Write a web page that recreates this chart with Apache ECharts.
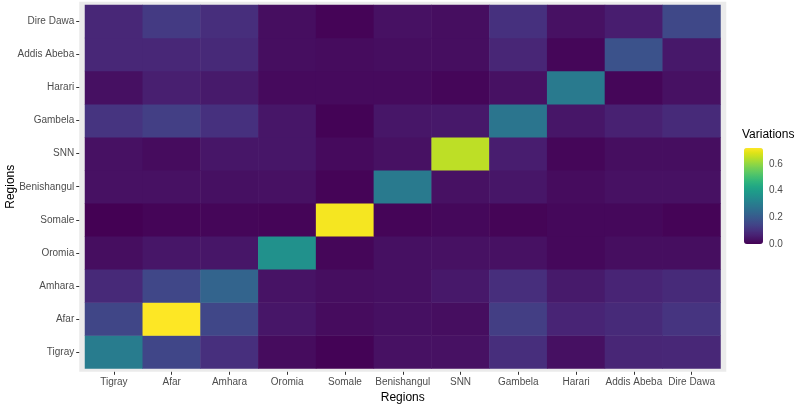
<!DOCTYPE html>
<html>
<head>
<meta charset="utf-8">
<script src="https://cdn.jsdelivr.net/npm/echarts@6/dist/echarts.min.js"></script>
<style>
html,body{margin:0;padding:0;background:#fff;}
#chart{width:800px;height:404px;}
</style>
</head>
<body>
<div id="chart"></div>
<script>
// Categories (same on both axes)
const regions = ['Tigray','Afar','Amhara','Oromia','Somale','Benishangul','SNN','Gambela','Harari','Addis Abeba','Dire Dawa'];

// One row per y-category (bottom to top), values across x-categories
const rowTigray      = [0.300, 0.150, 0.097, 0.022, 0.004, 0.032, 0.032, 0.094, 0.029, 0.076, 0.079];
const rowAfar        = [0.148, 0.720, 0.151, 0.043, 0.022, 0.029, 0.025, 0.130, 0.072, 0.086, 0.108];
const rowAmhara      = [0.083, 0.151, 0.230, 0.036, 0.025, 0.029, 0.047, 0.094, 0.050, 0.072, 0.086];
const rowOromia      = [0.025, 0.042, 0.043, 0.360, 0.011, 0.029, 0.032, 0.032, 0.014, 0.025, 0.025];
const rowSomale      = [0.000, 0.009, 0.011, 0.009, 0.710, 0.009, 0.014, 0.007, 0.014, 0.014, 0.006];
const rowBenishangul = [0.032, 0.032, 0.029, 0.032, 0.006, 0.295, 0.032, 0.043, 0.022, 0.032, 0.032];
const rowSNN         = [0.032, 0.022, 0.043, 0.043, 0.018, 0.032, 0.648, 0.058, 0.011, 0.025, 0.025];
const rowGambela     = [0.108, 0.133, 0.100, 0.043, 0.004, 0.043, 0.047, 0.280, 0.043, 0.065, 0.086];
const rowHarari      = [0.029, 0.061, 0.050, 0.018, 0.018, 0.018, 0.011, 0.032, 0.295, 0.011, 0.032];
const rowAddisAbeba  = [0.079, 0.079, 0.083, 0.025, 0.022, 0.025, 0.025, 0.076, 0.011, 0.180, 0.047];
const rowDireDawa    = [0.079, 0.122, 0.094, 0.025, 0.006, 0.032, 0.025, 0.100, 0.032, 0.058, 0.155];

// Colour scale range and legend ticks
const scaleMin = 0;
const scaleMax = 0.72;
const legendTicks = [0.0, 0.2, 0.4, 0.6];

const viridis = ['#440154','#471365','#482475','#463480','#414487','#3B528B','#355F8D','#2F6C8E','#2A788E','#25848E','#21918C','#1E9C89','#22A884','#2FB47C','#44BF70','#5EC962','#7AD151','#9BD93C','#BDDF26','#DFE318','#FDE725'];

const rows = [rowTigray,rowAfar,rowAmhara,rowOromia,rowSomale,rowBenishangul,rowSNN,rowGambela,rowHarari,rowAddisAbeba,rowDireDawa];
const data = [];
rows.forEach((row, yi) => row.forEach((v, xi) => data.push([xi, yi, v])));

const FONT = '"Liberation Sans", Arial, Helvetica, sans-serif';
const chart = echarts.init(document.getElementById('chart'), null, {renderer: 'canvas'});

const gridL = 85, gridT = 5, gridW = 635.5, gridH = 363.5;
const padX = gridW / 11 * 0.1, padY = gridH / 11 * 0.1;

chart.setOption({
  animation: false,
  backgroundColor: '#ffffff',
  textStyle: {fontFamily: FONT},
  graphic: [{
    type: 'rect', z: -10, silent: true,
    shape: {x: gridL - padX, y: gridT - padY, width: gridW + 2 * padX, height: gridH + 2 * padY},
    style: {fill: '#EBEBEB'}
  }, {
    type: 'text', left: 742, top: 129,
    style: {text: 'Variations', fill: '#000', font: '12px ' + FONT}
  }],
  grid: [
    {left: gridL, top: gridT, width: gridW, height: gridH, containLabel: false, outerBoundsMode: 'none'},
    {left: 744, top: 148, width: 19, height: 96, containLabel: false, outerBoundsMode: 'none'}
  ],
  xAxis: [{
    type: 'category', data: regions, gridIndex: 0,
    offset: padY,
    axisLine: {show: false},
    axisTick: {show: true, alignWithLabel: true, length: 3, lineStyle: {color: '#333333', width: 1}},
    axisLabel: {color: '#4D4D4D', fontSize: 10, margin: 5, interval: 0, fontFamily: FONT},
    splitLine: {show: false},
    name: 'Regions', nameLocation: 'middle', nameGap: 19,
    nameTextStyle: {color: '#000', fontSize: 12, fontFamily: FONT}
  }, {
    type: 'value', gridIndex: 1, show: false, min: 0, max: 1
  }],
  yAxis: [{
    type: 'category', data: regions, gridIndex: 0,
    offset: padX,
    axisLine: {show: false},
    axisTick: {show: true, alignWithLabel: true, length: 3, lineStyle: {color: '#333333', width: 1}},
    axisLabel: {color: '#4D4D4D', fontSize: 10, margin: 5, interval: 0, fontFamily: FONT},
    splitLine: {show: false},
    name: 'Regions', nameLocation: 'middle', nameGap: 63, nameRotate: 90,
    nameMoveOverlap: false,
    nameTextStyle: {color: '#000', fontSize: 12, fontFamily: FONT}
  }, {
    type: 'value', gridIndex: 1, position: 'right',
    min: scaleMin, max: scaleMax, interval: 0.2,
    axisLine: {show: false},
    axisTick: {show: true, inside: true, length: 4, lineStyle: {color: '#ffffff', width: 1}},
    axisLabel: {color: '#4D4D4D', fontSize: 10, margin: 6, fontFamily: FONT,
      formatter: v => legendTicks.some(t => Math.abs(t - v) < 1e-6) ? v.toFixed(1) : ''},
    splitLine: {show: false}
  }, {
    type: 'value', gridIndex: 1, position: 'left',
    min: scaleMin, max: scaleMax, interval: 0.2,
    axisLine: {show: false},
    axisTick: {show: true, inside: true, length: 4, lineStyle: {color: '#ffffff', width: 1}},
    axisLabel: {show: false},
    splitLine: {show: false}
  }],
  visualMap: {
    type: 'continuous', seriesIndex: 0,
    min: scaleMin, max: scaleMax,
    calculable: false, show: true,
    orient: 'vertical', left: 744, top: 148,
    itemWidth: 19, itemHeight: 96, padding: 0,
    inRange: {color: viridis},
    z: 1
  },
  series: [{
    type: 'heatmap', xAxisIndex: 0, yAxisIndex: 0,
    data: data,
    itemStyle: {borderWidth: 0},
    emphasis: {disabled: true}
  }, {
    type: 'line', xAxisIndex: 1, yAxisIndex: 1, data: [], z: 5
  }, {
    type: 'line', xAxisIndex: 1, yAxisIndex: 2, data: [], z: 5
  }]
});
</script>
</body>
</html>
